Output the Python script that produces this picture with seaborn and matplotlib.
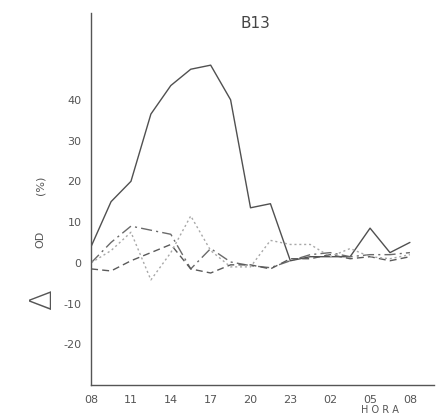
import numpy as np
import pandas as pd
import matplotlib
matplotlib.use("Agg")
import matplotlib.pyplot as plt
import seaborn as sns

# hours after 08:00, every 1.5 h
hours = [0, 1.5, 3, 4.5, 6, 7.5, 9, 10.5, 12, 13.5, 15, 16.5, 18, 19.5, 21, 22.5, 24]
tick_pos = [0, 3, 6, 9, 12, 15, 18, 21, 24]
tick_labels = ["08", "11", "14", "17", "20", "23", "02", "05", "08"]
y_ticks = [-20, -10, 0, 10, 20, 30, 40]

solid = [4, 15, 20, 36.5, 43.5, 47.5, 48.5, 40, 13.5, 14.5, 0.5, 1.5, 1.5, 1.5, 8.5, 2.5, 5]
dashdot = [0, 5, 9, 8, 7, -1.5, 3.5, 0.2, -0.7, -1.2, 0.5, 2, 2.5, 1.5, 2, 2, 2.5]
dashed = [-1.5, -2, 0.5, 2.5, 4.5, -1.5, -2.5, -0.5, -0.5, -1.5, 1, 1, 2, 1, 1.5, 0.5, 1.5]
dotted = [0, 3, 7.5, -4.2, 2.5, 11.5, 3, -1, -1, 5.5, 4.5, 4.5, 1.5, 3.5, 1.5, 1, 2]

series = {"solid": solid, "dashdot": dashdot, "dashed": dashed, "dotted": dotted}
rows = []
for name, vals in series.items():
    for h, v in zip(hours, vals):
        rows.append({"hour": h, "value": v, "series": name})
df = pd.DataFrame(rows)

sns.set_style("white")
plt.rcParams["font.family"] = ["DejaVu Sans"]

fig = plt.figure(figsize=(4.36, 4.19), dpi=100)
ax = fig.add_axes([0.209, 0.081, 0.786, 0.888])

palette = {"solid": "#505050", "dashdot": "#6a6a6a", "dashed": "#5a5a5a", "dotted": "#a8a8a8"}
dashes = {"solid": "", "dashdot": (8, 3, 1.5, 3), "dashed": (5, 3), "dotted": (1.5, 2)}

sns.lineplot(data=df, x="hour", y="value", hue="series", style="series",
             palette=palette, dashes=dashes, legend=False, ax=ax,
             linewidth=1.0)

ax.set_xlim(0, 25.8)
ax.set_ylim(-30, 61.3)
ax.set_xticks(tick_pos)
ax.set_xticklabels(tick_labels)
ax.set_yticks(y_ticks)
ax.set_yticklabels([str(t) for t in y_ticks])
ax.set_xlabel("")
ax.set_ylabel("")
for s in ["top", "right"]:
    ax.spines[s].set_visible(False)
for s in ["left", "bottom"]:
    ax.spines[s].set_color("#555555")
    ax.spines[s].set_linewidth(1.0)
ax.tick_params(axis="both", direction="inout", length=8, width=1.0, color="#555555",
               labelsize=8, labelcolor="#555555", pad=3)

fig.text(0.585, 0.945, "B13", ha="center", va="center", fontsize=11, color="#444444")
fig.text(0.872, 0.022, "H O R A", ha="center", va="center", fontsize=7, color="#555555")
fig.text(0.098, 0.285, "\u0394", rotation=90, ha="center", va="center", fontsize=22,
         color="#555555", fontweight="light")
fig.text(0.092, 0.428, "OD", rotation=90, ha="center", va="center", fontsize=8, color="#555555")
fig.text(0.092, 0.558, "(%)", rotation=90, ha="center", va="center", fontsize=8, color="#555555")

fig.savefig("out.png", dpi=100)
